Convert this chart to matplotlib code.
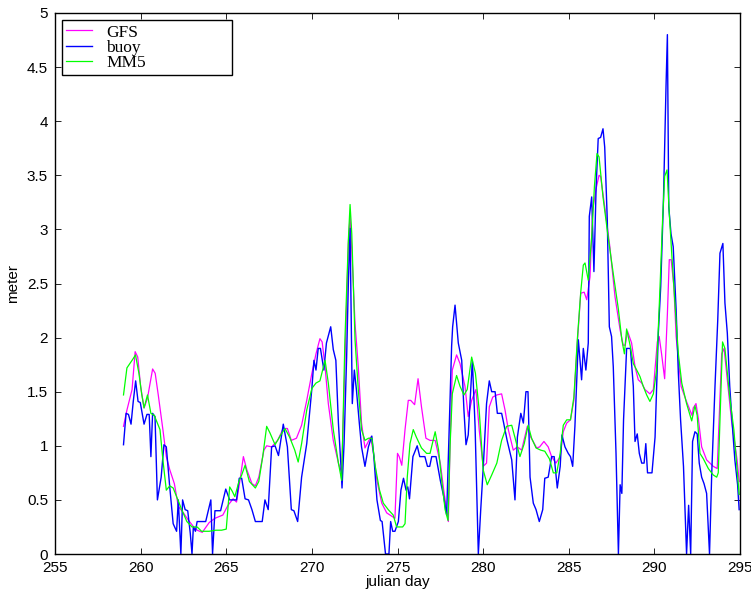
import matplotlib
matplotlib.use("Agg")
import matplotlib.pyplot as plt
from matplotlib.ticker import FormatStrFormatter

# significant wave height (m) vs julian day
buoy_day = [259.0, 259.15, 259.29, 259.44, 259.57, 259.71, 259.85, 259.98, 260.2, 260.37,
            260.5, 260.6, 260.7, 260.84, 260.98, 261.2, 261.36, 261.5, 261.7, 261.9,
            262.1, 262.2, 262.35, 262.45, 262.6, 262.75, 262.9, 263.0, 263.08, 263.2,
            263.3, 263.8, 264.1, 264.2, 264.34, 264.67, 264.97, 265.2, 265.6, 265.76,
            265.9, 266.1, 266.3, 266.5, 266.7, 267.1, 267.26, 267.45, 267.65, 267.85,
            268.05, 268.33, 268.57, 268.8, 268.95, 269.17, 269.4, 269.7, 270.0, 270.12,
            270.24, 270.37, 270.5, 270.7, 270.85, 271.1, 271.25, 271.4, 271.55, 271.7,
            271.76, 271.88, 272.03, 272.13, 272.23, 272.36, 272.48, 272.6, 272.77, 272.9,
            273.1, 273.3, 273.5, 273.62, 273.8, 274.0, 274.1, 274.3, 274.5, 274.6,
            274.72, 274.85, 275.05, 275.2, 275.35, 275.5, 275.6, 275.7, 275.9, 276.15,
            276.3, 276.6, 276.75, 276.88, 277.0, 277.25, 277.5, 277.7, 277.87, 278.03,
            278.16, 278.22, 278.36, 278.55, 278.75, 278.88, 279.0, 279.13, 279.37, 279.53,
            279.72, 279.86, 280.0, 280.2, 280.36, 280.5, 280.7, 280.83, 281.08, 281.2,
            281.4, 281.67, 281.86, 282.0, 282.2, 282.35, 282.5, 282.62, 282.74, 282.93,
            283.09, 283.28, 283.48, 283.6, 283.8, 284.0, 284.15, 284.33, 284.5, 284.6,
            284.78, 284.97, 285.1, 285.23, 285.36, 285.56, 285.75, 285.85, 286.0, 286.14,
            286.2, 286.34, 286.47, 286.6, 286.72, 286.86, 287.0, 287.1, 287.25, 287.37,
            287.5, 287.6, 287.76, 287.9, 288.0, 288.1, 288.2, 288.38, 288.6, 288.77,
            288.87, 289.0, 289.12, 289.26, 289.4, 289.5, 289.6, 289.86, 290.04, 290.23,
            290.37, 290.53, 290.68, 290.76, 290.84, 290.97, 291.1, 291.27, 291.4, 291.53,
            291.7, 291.88, 292.0, 292.12, 292.23, 292.37, 292.5, 292.62, 292.76, 292.9,
            293.05, 293.22, 293.35, 293.54, 293.7, 293.83, 294.0, 294.12, 294.26, 294.4,
            294.57, 294.7, 294.86, 294.95]
buoy_hs = [1.01, 1.30, 1.29, 1.20, 1.41, 1.60, 1.41, 1.40, 1.20, 1.29,
           1.29, 0.90, 1.30, 1.27, 0.50, 0.71, 1.01, 0.99, 0.62, 0.28,
           0.21, 0.50, 0.0, 0.50, 0.41, 0.40, 0.19, 0.0, 0.25, 0.21,
           0.30, 0.30, 0.50, 0.0, 0.40, 0.40, 0.60, 0.50, 0.50, 0.70,
           0.70, 0.51, 0.50, 0.41, 0.30, 0.30, 0.50, 0.41, 0.99, 1.00,
           0.91, 1.20, 0.99, 0.41, 0.40, 0.30, 0.71, 1.02, 1.53, 1.79,
           1.70, 1.90, 1.90, 1.70, 1.95, 2.10, 1.89, 1.79, 1.21, 0.81,
           0.61, 1.02, 1.82, 2.50, 3.01, 1.39, 1.70, 1.52, 1.21, 0.99,
           0.81, 0.99, 1.09, 0.90, 0.50, 0.31, 0.30, 0.0, 0.0, 0.30,
           0.21, 0.21, 0.30, 0.59, 0.70, 0.59, 0.62, 0.51, 0.90, 1.00,
           0.90, 0.90, 0.81, 0.81, 0.90, 0.90, 0.68, 0.53, 0.36, 1.21,
           1.92, 2.10, 2.30, 1.95, 1.79, 1.33, 1.01, 1.10, 1.79, 1.18,
           0.0, 0.41, 0.78, 1.39, 1.60, 1.50, 1.50, 1.30, 1.30, 1.21,
           1.05, 0.87, 0.50, 1.08, 1.30, 1.21, 1.50, 1.50, 0.71, 0.47,
           0.41, 0.30, 0.41, 0.70, 0.71, 0.90, 0.90, 0.61, 0.81, 1.10,
           0.99, 0.93, 0.90, 0.81, 1.18, 1.98, 1.61, 1.90, 1.70, 1.95,
           3.12, 3.30, 2.61, 3.40, 3.84, 3.85, 3.93, 3.76, 3.09, 2.10,
           2.01, 1.73, 0.93, 0.0, 0.64, 0.56, 1.24, 1.90, 1.90, 1.55,
           1.04, 1.11, 0.93, 0.84, 0.84, 1.02, 0.75, 0.75, 1.08, 2.04,
           2.47, 3.27, 4.32, 4.80, 3.21, 2.96, 2.84, 2.26, 1.67, 1.24,
           0.81, 0.0, 0.45, 0.0, 1.04, 1.13, 1.11, 0.84, 0.71, 0.65,
           0.56, 0.0, 0.75, 1.55, 2.16, 2.78, 2.87, 2.32, 2.04, 1.55,
           1.15, 0.87, 0.64, 0.41]

gfs_day = [259.0, 259.2, 259.5, 259.68, 259.83, 260.0, 260.2, 260.4, 260.7, 260.85,
           261.03, 261.3, 261.5, 261.7, 261.97, 262.2, 262.5, 262.8, 263.1, 263.3,
           263.6, 264.0, 264.34, 264.8, 265.1, 265.4, 265.6, 265.8, 266.0, 266.2,
           266.5, 266.7, 266.9, 267.2, 267.36, 267.65, 268.0, 268.33, 268.57, 268.8,
           269.1, 269.4, 269.7, 270.0, 270.24, 270.47, 270.6, 270.77, 270.96, 271.25,
           271.55, 271.74, 271.93, 272.13, 272.23, 272.33, 272.52, 272.71, 272.9, 273.1,
           273.3, 273.43, 273.6, 273.8, 274.08, 274.37, 274.66, 274.85, 275.0, 275.1,
           275.25, 275.44, 275.63, 275.77, 276.0, 276.2, 276.4, 276.66, 276.9, 277.2,
           277.5, 277.7, 277.97, 278.07, 278.2, 278.45, 278.65, 278.94, 279.13, 279.33,
           279.58, 279.77, 280.0, 280.2, 280.36, 280.56, 280.8, 281.08, 281.28, 281.47,
           281.76, 282.0, 282.25, 282.58, 282.78, 283.13, 283.3, 283.55, 283.8, 284.0,
           284.25, 284.5, 284.68, 284.88, 285.1, 285.3, 285.5, 285.7, 285.9, 286.05,
           286.24, 286.4, 286.6, 286.77, 286.86, 287.1, 287.4, 287.7, 288.0, 288.18,
           288.3, 288.43, 288.67, 288.87, 289.06, 289.26, 289.45, 289.74, 289.94, 290.17,
           290.28, 290.42, 290.6, 290.76, 290.87, 290.98, 291.14, 291.27, 291.56, 291.85,
           292.2, 292.27, 292.43, 292.57, 292.76, 293.05, 293.44, 293.67, 293.93, 294.07,
           294.22, 294.5, 294.83, 294.95]
gfs_hs = [1.18, 1.33, 1.52, 1.87, 1.82, 1.55, 1.35, 1.44, 1.71, 1.67,
          1.47, 1.15, 0.90, 0.78, 0.65, 0.44, 0.38, 0.31, 0.25, 0.22,
          0.20, 0.29, 0.33, 0.36, 0.45, 0.51, 0.48, 0.68, 0.90, 0.78,
          0.65, 0.63, 0.71, 0.96, 1.00, 0.99, 1.05, 1.16, 1.16, 1.05,
          1.07, 1.19, 1.42, 1.67, 1.85, 1.99, 1.96, 1.73, 1.39, 1.05,
          0.84, 0.75, 1.76, 2.87, 3.12, 2.81, 2.13, 1.73, 1.21, 0.98,
          1.04, 1.08, 0.93, 0.68, 0.47, 0.38, 0.35, 0.33, 0.93, 0.90,
          0.82, 1.15, 1.42, 1.42, 1.38, 1.62, 1.36, 1.07, 1.05, 1.05,
          0.84, 0.59, 0.30, 1.02, 1.70, 1.84, 1.76, 1.55, 1.27, 1.42,
          1.52, 1.15, 0.81, 0.84, 1.36, 1.45, 1.47, 1.48, 1.33, 1.15,
          0.96, 0.99, 0.96, 1.18, 1.08, 0.98, 0.99, 1.04, 0.99, 0.90,
          0.84, 0.90, 1.13, 1.21, 1.24, 1.42, 1.95, 2.41, 2.42, 2.35,
          2.56, 3.18, 3.38, 3.50, 3.49, 3.21, 2.84, 2.38, 2.07, 1.93,
          1.93, 2.06, 1.95, 1.73, 1.61, 1.58, 1.52, 1.48, 1.52, 1.96,
          2.01, 1.85, 1.62, 2.22, 2.72, 2.72, 2.47, 2.01, 1.55, 1.42,
          1.28, 1.35, 1.39, 1.25, 0.99, 0.87, 0.81, 0.79, 1.85, 1.90,
          1.67, 1.24, 0.87, 0.67]

mm5_day = [259.0, 259.2, 259.5, 259.7, 259.9, 260.06, 260.2, 260.4, 260.6, 260.8,
           261.13, 261.3, 261.5, 261.7, 261.9, 262.1, 262.4, 262.7, 263.0, 263.3,
           263.56, 264.0, 264.4, 264.73, 265.0, 265.2, 265.35, 265.5, 265.76, 265.9,
           266.1, 266.35, 266.7, 266.9, 267.13, 267.36, 267.55, 267.85, 268.18, 268.43,
           268.7, 269.0, 269.2, 269.4, 269.7, 270.0, 270.24, 270.47, 270.77, 270.96,
           271.25, 271.55, 271.74, 271.93, 272.13, 272.23, 272.33, 272.52, 272.71, 272.9,
           273.1, 273.3, 273.5, 273.7, 273.95, 274.17, 274.46, 274.75, 274.95, 275.3,
           275.44, 275.57, 275.73, 275.92, 276.1, 276.4, 276.7, 276.9, 277.2, 277.4,
           277.58, 277.78, 277.95, 278.07, 278.2, 278.45, 278.65, 278.88, 279.07, 279.33,
           279.55, 279.77, 280.0, 280.24, 280.5, 280.8, 281.08, 281.37, 281.67, 281.9,
           282.15, 282.4, 282.63, 282.83, 283.09, 283.36, 283.6, 283.87, 284.1, 284.3,
           284.5, 284.68, 284.88, 285.1, 285.3, 285.5, 285.7, 285.85, 285.95, 286.14,
           286.34, 286.5, 286.65, 286.77, 287.0, 287.3, 287.6, 287.9, 288.1, 288.25,
           288.38, 288.58, 288.77, 288.97, 289.16, 289.35, 289.55, 289.74, 289.94, 290.13,
           290.33, 290.48, 290.6, 290.74, 290.87, 291.0, 291.2, 291.4, 291.6, 291.88,
           292.18, 292.37, 292.5, 292.66, 292.86, 293.15, 293.44, 293.64, 293.73, 293.98,
           294.12, 294.4, 294.64, 294.83, 294.95]
mm5_hs = [1.47, 1.72, 1.79, 1.84, 1.67, 1.48, 1.35, 1.47, 1.30, 1.28,
          1.15, 0.87, 0.59, 0.63, 0.61, 0.53, 0.41, 0.30, 0.25, 0.25,
          0.21, 0.21, 0.22, 0.22, 0.23, 0.62, 0.58, 0.53, 0.68, 0.73,
          0.82, 0.67, 0.61, 0.67, 0.90, 1.18, 1.12, 1.01, 1.10, 1.16,
          1.08, 0.96, 0.85, 1.02, 1.33, 1.53, 1.58, 1.60, 1.79, 1.58,
          1.15, 0.84, 0.68, 1.98, 2.90, 3.23, 2.96, 1.98, 1.52, 1.15,
          1.05, 1.07, 1.07, 0.81, 0.59, 0.47, 0.41, 0.36, 0.25, 0.25,
          0.28, 0.71, 1.02, 1.15, 1.08, 0.98, 0.93, 0.93, 1.13, 0.96,
          0.68, 0.41, 0.31, 1.00, 1.48, 1.65, 1.55, 1.47, 1.52, 1.82,
          1.67, 1.33, 0.78, 0.64, 0.73, 0.84, 1.05, 1.18, 1.19, 1.05,
          0.90, 1.02, 1.19, 1.07, 0.98, 0.96, 0.95, 0.88, 0.75, 0.75,
          0.93, 1.19, 1.24, 1.24, 1.45, 1.98, 2.42, 2.67, 2.69, 2.53,
          2.93, 3.40, 3.70, 3.67, 3.30, 2.93, 2.59, 2.26, 1.98, 1.85,
          2.08, 1.93, 1.76, 1.70, 1.64, 1.55, 1.47, 1.41, 1.48, 1.70,
          2.47, 3.09, 3.49, 3.55, 3.15, 2.81, 2.32, 1.85, 1.58, 1.39,
          1.23, 1.37, 1.28, 0.93, 0.88, 0.79, 0.73, 0.71, 0.75, 1.96,
          1.90, 1.45, 1.15, 0.78, 0.55]

fig = plt.figure(figsize=(7.51, 5.94), dpi=100)
ax = fig.add_axes([55 / 751, 40 / 594, 685 / 751, 541 / 594])

ax.plot(gfs_day, gfs_hs, color="#ff00ff", lw=0.9, label="GFS")
ax.plot(buoy_day, buoy_hs, color="#0000ff", lw=1.0, label="buoy")
ax.plot(mm5_day, mm5_hs, color="#00ff00", lw=0.9, label="MM5")

ax.set_xlim(255, 295)
ax.set_ylim(0, 5)
ax.set_xticks(range(255, 296, 5))
ax.set_yticks([i * 0.5 for i in range(11)])
ax.yaxis.set_major_formatter(FormatStrFormatter("%g"))
ax.tick_params(direction="in", top=True, right=True, length=4, width=0.6,
               labelsize=11)
ax.tick_params(axis="x", pad=5)
ax.tick_params(axis="y", pad=5)
for lab in ax.get_xticklabels() + ax.get_yticklabels():
    lab.set_family("Liberation Sans")
for s in ax.spines.values():
    s.set_linewidth(1.0)

ax.set_xlabel("julian day", family="Liberation Sans", fontsize=11, labelpad=0)
ax.set_ylabel("meter", family="Liberation Sans", fontsize=11, labelpad=5)

leg = ax.legend(loc="upper left", bbox_to_anchor=(0.010, 0.884, 0.248, 0.103),
                mode="expand", borderaxespad=0, fancybox=False, framealpha=1,
                edgecolor="black", handlelength=1.5, handletextpad=0.8,
                labelspacing=-0.05, borderpad=0.25,
                prop={"family": "Liberation Serif", "size": 12.5})
leg.get_frame().set_linewidth(1.0)

fig.savefig("out.png", dpi=100)
